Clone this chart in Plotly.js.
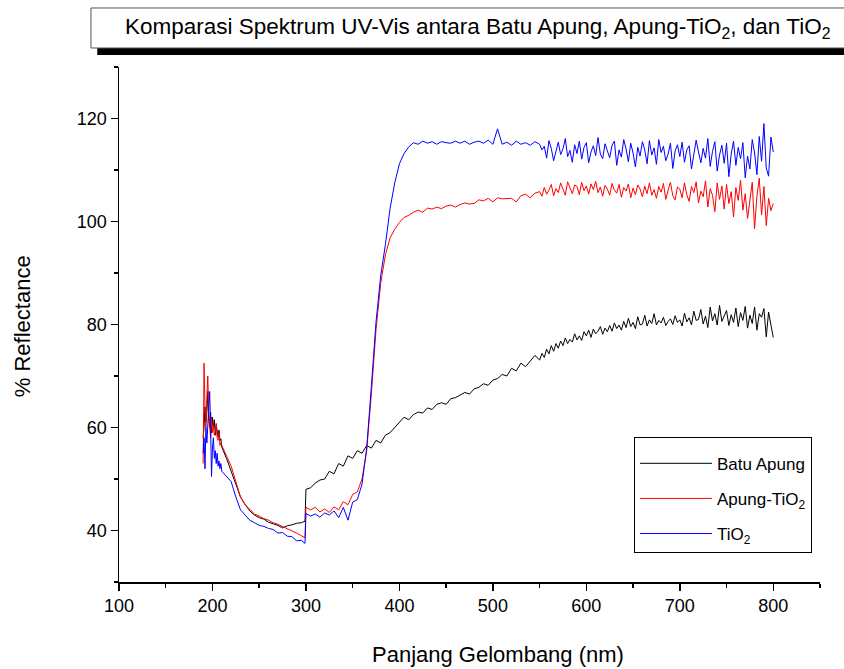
<!DOCTYPE html>
<html>
<head>
<meta charset="utf-8">
<script src="https://cdn.plot.ly/plotly-3.0.1.min.js"></script>
<style>html,body{margin:0;padding:0;background:#fff;}#chart{width:844px;height:669px;}</style>
</head>
<body>
<div id="chart"></div>
<script>
var wavelength = [
  190,191,192,193,194,195,196,197,198,199,200,201,202,203,204,205,206,207,208,209,210,
  215,220,225,230,235,240,245,250,255,260,265,270,275,280,285,290,295,299,
  300,305,310,315,320,325,330,335,340,345,
  350,355,360,365,370,375,380,385,390,395,
  400,405,410,415,420,425,430,435,440,445,
  450,455,460,465,470,475,480,485,490,495,
  500,505,510,515,520,525,530,535,540,545,
  550,552.5,555,557.5,560,562.5,565,567.5,570,572.5,
  575,577.5,580,582.5,585,587.5,590,592.5,595,597.5,
  600,602.5,605,607.5,610,612.5,615,617.5,620,622.5,
  625,627.5,630,632.5,635,637.5,640,642.5,645,647.5,
  650,652.5,655,657.5,660,662.5,665,667.5,670,672.5,
  675,677.5,680,682.5,685,687.5,690,692.5,695,697.5,
  700,702.5,705,707.5,710,712.5,715,717.5,720,722.5,
  725,727.5,730,732.5,735,737.5,740,742.5,745,747.5,
  750,752.5,755,757.5,760,762.5,765,767.5,770,772.5,
  775,777.5,780,782.5,785,787.5,790,792.5,795,797.5,
  800];

var batuApung = [
  58,60,64,61,63,67,62,60,63,59,62,60,61.5,58.5,60.5,59,58.2,59.5,57.5,57.8,56.2,
  54,51.5,49,46.5,45,43.8,43,42.5,42.2,41.6,41.3,41,40.5,40.9,41.1,41.4,41.5,41.8,
  48,48.3,49.2,49.8,50,51.5,51,53,52.5,54.5,
  54,55.5,55,56.5,56,57.5,57,58.5,59,60,
  61,62,61.5,62.5,63,62.8,63.8,63.5,64.5,64.8,
  64.5,65.6,65.8,66.3,66.8,66.5,67.5,67.8,68.5,68.2,
  69.2,69.5,70.3,70,71.5,71,72.5,71.8,73,74,
  73.1,74.4,73.6,75.2,74.3,75.9,74.8,76.3,75.4,76.8,
  75.9,77.4,76.3,77.1,76.6,78.2,77,77.8,76.9,78.6,
  77.8,78.9,77.5,79.1,78.2,78.7,79.6,78.1,79.3,78.6,
  79.8,78.7,80.3,79.2,79.9,78.9,80.6,79.4,81.2,79.6,
  80.4,79.2,81.5,79.9,80.1,81.8,79.7,80.9,80.2,82.1,
  79.9,80.8,80.3,81.4,79.8,80.6,81.1,80,81.7,80.4,
  80.9,79.7,82.2,80.5,81.3,79.9,82.6,80.8,81,82.9,
  80.1,81.6,79.4,83.4,80.7,82.1,79.9,83.7,80.6,81.5,
  82.7,79.8,81.9,80.4,83.2,79.6,82.3,80.8,83.5,79.3,
  81.8,80.2,83.4,78.9,82.1,81.4,83.1,77.6,82.4,79.9,
  77.5];

var apungTiO2 = [
  53,72.5,64,60,66,70,63,61,58,62,59,60.5,58.5,59,60.8,58,57.5,59,56.5,57,56.5,
  54.5,52.5,49.5,46.5,45,44,43.2,42.8,42.3,42,41.5,41.2,40.8,40.3,40,39.5,39,38.6,
  44.5,44,44.5,43.6,44.2,43.5,44.6,44,45.6,45,
  47,47.5,50,55.5,66.5,79,88,93.5,96.8,98.5,
  99.8,100.8,101.2,101.8,102.2,101.8,102.6,102.4,102.8,102.5,
  103,103.2,102.8,103.3,103.6,103.4,103.5,104.2,104,104.5,
  103.8,104.6,104.4,104.5,104.5,103.8,105,105.3,104.6,105.5,
  105.8,104.9,106.6,105.3,106.1,107.2,105,106.4,105.6,107.5,
  106.2,105.1,107.7,106.5,105.4,107.1,106.8,105.2,107.6,106,
  106.9,105.3,107.3,106.2,107.8,105.6,106.7,104.9,107,106.3,
  105.1,107.4,106.1,105.5,107.2,104.7,106.6,105.9,107.3,104.6,
  106.5,105.2,107.1,106.3,104.8,106.9,105.4,107.5,105.1,106.2,
  104.5,106.8,105.7,107.4,104.3,106.1,107.6,105,104.2,106.7,
  106.3,104.6,107.5,105.2,103.9,106.8,105.6,107.7,103.6,105.9,
  104.8,107.9,102.8,106.4,105.1,101.9,107.5,104.3,106.9,102.4,
  107.2,103.5,105.8,100.9,106.6,104.1,108,102.2,105.4,100.6,
  103.8,107.6,98.6,104.9,108.4,101.3,106.8,99.2,104.5,102.1,
  103.5];

var tiO2 = [
  55,58,52,60,57,61,62,67,60,50.5,56,58,54,55.5,53,55,52.5,53.5,52,53,51.5,
  50.5,49.5,46.5,44,43,42,41.5,41,40.8,40.4,40.2,39.5,39.6,38.9,38.8,38,38.1,37.5,
  43.3,42.8,43.2,42.6,43.4,43,43.8,42.5,44.5,42,
  45.5,46,49,56,68,80.5,89.5,95.5,102.5,107.5,
  111.2,113.2,114.5,115.3,115,115.6,115.2,115.5,115,115.5,
  115.3,115.2,115.6,115.2,115.6,115,115.4,115.6,115.2,115.8,
  115,118,115,115.4,114.8,115.6,115,115.3,114.8,115.5,
  115,113.9,114.6,112.3,115.7,114.2,111.8,113.6,115.4,113,
  114.1,116.1,112.6,113.8,111.5,114.9,113.2,115.6,112.1,114.4,
  115.3,111.4,113.5,114.7,112.8,116.3,113.1,112.2,115.1,113.7,
  112.4,114.8,115.6,110.9,113.9,112.5,115.9,114.1,111.6,115.2,
  113.3,110.6,114.4,112.7,115.5,113.9,111.2,115.7,112.9,114.3,
  111.1,115.9,113.4,114.6,111.8,113.1,115.2,110.3,113.7,114.9,
  112.6,115.4,111.5,113.9,114.7,110.2,112.8,115.8,113.5,111.4,
  114.2,112.3,116.1,110.7,113.6,115.5,109.8,112.9,114.8,111.3,
  115.2,108.7,113.1,115.6,110.9,114.4,112.2,115.3,108.5,112.7,
  110.2,115.9,113.3,109.1,116.5,111.7,119,110.4,108.8,116.4,
  113.5];

var seriesNames = ['Batu Apung', 'Apung-TiO<sub>2</sub>', 'TiO<sub>2</sub>'];
var seriesColors = ['#000000', '#ff0000', '#0000ff'];
var seriesValues = [batuApung, apungTiO2, tiO2];

var titleText = 'Komparasi Spektrum UV-Vis antara Batu Apung, Apung-TiO<sub>2</sub>, dan TiO<sub>2</sub>';
var xTitle = 'Panjang Gelombang (nm)';
var yTitle = '% Reflectance';
var xTickVals = [100,200,300,400,500,600,700,800];
var yTickVals = [40,60,80,100,120];

var FONT = 'Arial, "Liberation Sans", sans-serif';

var traces = seriesValues.map(function (vals, i) {
  return {
    type: 'scatter', mode: 'lines',
    x: wavelength, y: vals,
    name: seriesNames[i], legendgroup: 'g' + i,
    line: {color: seriesColors[i], width: 1}
  };
});

var layout = {
  width: 844, height: 669,
  margin: {l: 119, r: 24, t: 67, b: 87, pad: 0},
  paper_bgcolor: '#ffffff', plot_bgcolor: '#ffffff',
  font: {family: FONT, color: '#000000', size: 18},
  showlegend: true,
  xaxis: {
    range: [100, 850], tickmode: 'array', tickvals: xTickVals,
    ticks: 'outside', ticklen: 7, tickwidth: 1.5, tickcolor: '#000',
    showline: true, linecolor: '#000', linewidth: 1.5,
    showgrid: false, zeroline: false,
    tickfont: {family: FONT, size: 18},
    minor: {tickmode: 'linear', tick0: 150, dtick: 100, ticks: 'outside', ticklen: 4, tickwidth: 1.5, tickcolor: '#000', showgrid: false}
  },
  yaxis: {
    range: [30, 130], tickmode: 'array', tickvals: yTickVals,
    ticks: 'outside', ticklen: 7, tickwidth: 1.5, tickcolor: '#000',
    showline: true, linecolor: '#000', linewidth: 1.5,
    showgrid: false, zeroline: false,
    tickfont: {family: FONT, size: 18},
    minor: {tickmode: 'linear', tick0: 30, dtick: 20, ticks: 'outside', ticklen: 4, tickwidth: 1.5, tickcolor: '#000', showgrid: false}
  },
  legend: {
    x: 0.7347, y: 0.2816, xanchor: 'left', yanchor: 'top',
    bordercolor: '#000', borderwidth: 1, bgcolor: '#ffffff',
    font: {family: FONT, size: 17},
    title: {text: ' ', font: {size: 6}},
    itemwidth: 72,
    tracegroupgap: 10
  },
  shapes: [
    {type: 'rect', xref: 'paper', yref: 'paper', x0: -0.031, x1: 1.2, y0: 1.0233, y1: 1.10,
     fillcolor: '#000', line: {width: 0}, layer: 'above'},
    {type: 'rect', xref: 'paper', yref: 'paper', x0: -0.040, x1: 1.2, y0: 1.0369, y1: 1.1146,
     fillcolor: '#ffffff', line: {color: '#555', width: 1}, layer: 'above'}
  ],
  annotations: [
    {text: titleText, xref: 'paper', yref: 'paper', x: 0.5107, y: 1.0757,
     xanchor: 'center', yanchor: 'middle', showarrow: false,
     font: {family: FONT, size: 22.5, color: '#000'}},
    {text: xTitle, xref: 'paper', yref: 'paper', x: 0.5407, y: -0.1417,
     xanchor: 'center', yanchor: 'middle', showarrow: false,
     font: {family: FONT, size: 22, color: '#000'}},
    {text: yTitle, xref: 'paper', yref: 'paper', x: -0.1384, y: 0.4966,
     xanchor: 'center', yanchor: 'middle', showarrow: false, textangle: -90,
     font: {family: FONT, size: 22, color: '#000'}}
  ]
};

Plotly.newPlot('chart', traces, layout, {displayModeBar: false, staticPlot: true});
</script>
</body>
</html>
